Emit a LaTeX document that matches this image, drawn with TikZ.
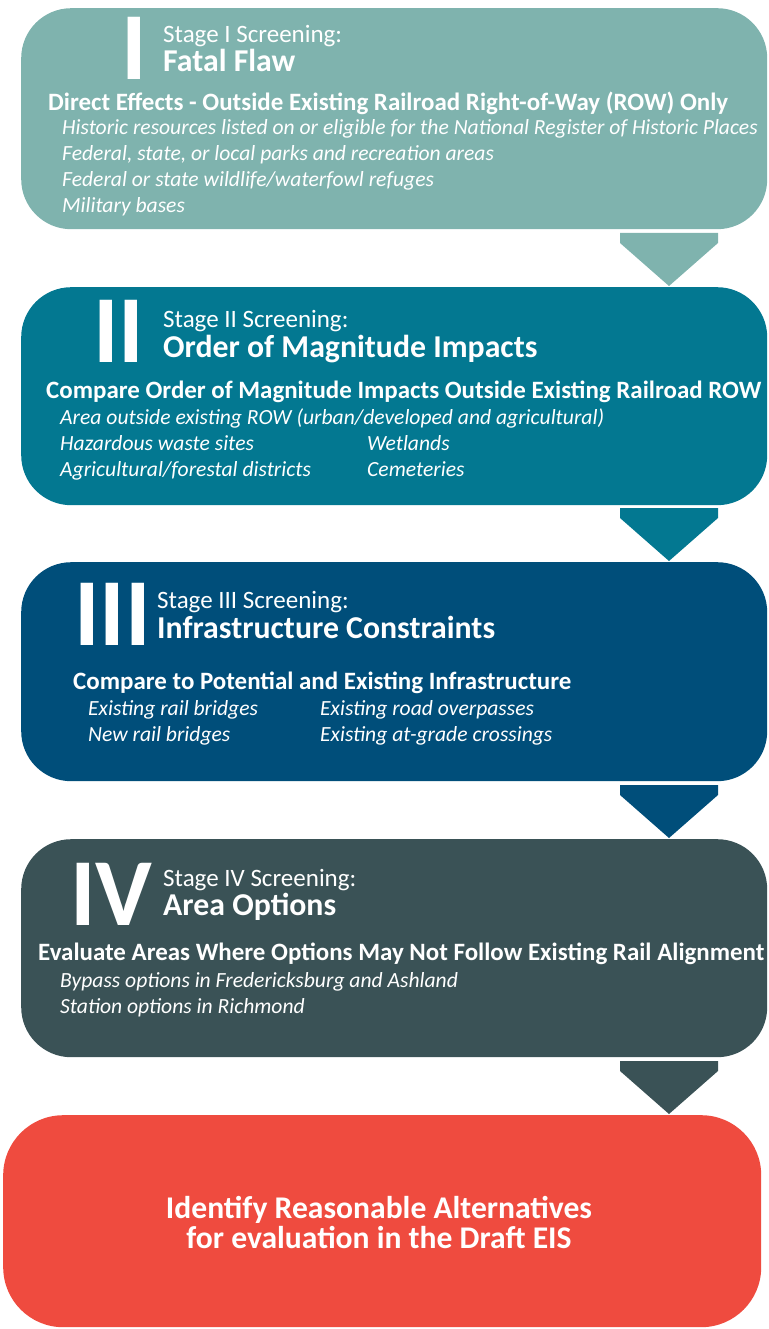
\documentclass[tikz,border=0pt]{standalone}
\usepackage{fontspec}
\setmainfont{Carlito}
\usetikzlibrary{calc}
\definecolor{cA}{HTML}{7FB3AE}
\definecolor{cB}{HTML}{037891}
\definecolor{cC}{HTML}{004E7A}
\definecolor{cD}{HTML}{3A5256}
\definecolor{cE}{HTML}{EF4B3F}
\tikzset{
  stagebox/.style={rectangle, rounded corners=50pt, minimum width=746pt, anchor=north west, inner sep=0pt},
  numeral/.style={anchor=base west, text=white, inner sep=0pt, font=\bfseries\fontsize{96}{96}\selectfont},
  stagelbl/.style={anchor=base west, text=white, inner sep=0pt, font=\fontsize{25}{26}\selectfont},
  titlelbl/.style={anchor=base west, text=white, inner sep=0pt, font=\bfseries\fontsize{31.8}{32}\selectfont},
  headlbl/.style={anchor=base west, text=white, inner sep=0pt, font=\bfseries\fontsize{24.95}{26}\selectfont},
  itemlbl/.style={anchor=base west, text=white, inner sep=0pt, font=\itshape\fontsize{21.6}{26}\selectfont},
}
\begin{document}
\begin{tikzpicture}[x=1pt,y=-1pt]
\useasboundingbox (0,0) rectangle (768,1329);
% boxes
\node[stagebox, fill=cA, minimum height=221pt] (b1) at (21,8) {};
\node[stagebox, fill=cB, minimum height=218pt] (b2) at (21,287) {};
\node[stagebox, fill=cC, minimum height=219pt] (b3) at (21,562) {};
\node[stagebox, fill=cD, minimum height=218pt] (b4) at (21,839) {};
\node[rectangle, rounded corners=60pt, anchor=north west, inner sep=0pt, fill=cE, minimum width=758pt, minimum height=212pt] (b5) at (3,1115) {};
% chevrons
\fill[cA] (620,233) -- (718,233) -- (718,243) -- (669,286) -- (620,243) -- cycle;
\fill[cB] (620,508) -- (718,508) -- (718,518) -- (669,561) -- (620,518) -- cycle;
\fill[cC] (620,785) -- (718,785) -- (718,795) -- (669,838) -- (620,795) -- cycle;
\fill[cD] (620,1061) -- (718,1061) -- (718,1071) -- (669,1114) -- (620,1071) -- cycle;
% Stage I
\node[numeral] (n1) at (121,80) {I};
\node[stagelbl] (s1) at (163,43) {Stage I Screening:};
\node[titlelbl] (t1) at (163,72) {Fatal Flaw};
\node[headlbl] (h1) at (48,111) {Direct Effects - Outside Existing Railroad Right-of-Way (ROW) Only};
\node[itemlbl] (i11) at (62,135) {Historic resources listed on or eligible for the National Register of Historic Places};
\node[itemlbl] (i12) at (62,161) {Federal, state, or local parks and recreation areas};
\node[itemlbl] (i13) at (62,187) {Federal or state wildlife/waterfowl refuges};
\node[itemlbl] (i14) at (62,213) {Military bases};
% Stage II
\node[numeral] (n2) at (93,362) {II};
\node[stagelbl] (s2) at (163,327) {Stage II Screening:};
\node[titlelbl] (t2) at (163,357) {Order of Magnitude Impacts};
\node[headlbl] (h2) at (46,398) {Compare Order of Magnitude Impacts Outside Existing Railroad ROW};
\node[itemlbl] (i21) at (60,424) {Area outside existing ROW (urban/developed and agricultural)};
\node[itemlbl] (i22) at (60,450) {Hazardous waste sites};
\node[itemlbl] (i23) at (367,450) {Wetlands};
\node[itemlbl] (i24) at (60,476) {Agricultural/forestal districts};
\node[itemlbl] (i25) at (367,476) {Cemeteries};
% Stage III
\node[numeral] (n3) at (74,645) {III};
\node[stagelbl] (s3) at (157,608) {Stage III Screening:};
\node[titlelbl] (t3) at (157,638) {Infrastructure Constraints};
\node[headlbl] (h3) at (73,689) {Compare to Potential and Existing Infrastructure};
\node[itemlbl] (i31) at (88,715) {Existing rail bridges};
\node[itemlbl] (i32) at (320,715) {Existing road overpasses};
\node[itemlbl] (i33) at (88,741) {New rail bridges};
\node[itemlbl] (i34) at (320,741) {Existing at-grade crossings};
% Stage IV
\node[numeral] (n4) at (70,925) {IV};
\node[stagelbl] (s4) at (163,886) {Stage IV Screening:};
\node[titlelbl] (t4) at (163,915) {Area Options};
\node[headlbl] (h4) at (38,960) {Evaluate Areas Where Options May Not Follow Existing Rail Alignment};
\node[itemlbl] (i41) at (60,987) {Bypass options in Fredericksburg and Ashland};
\node[itemlbl] (i42) at (60,1013) {Station options in Richmond};
% Final
\node[text=white, align=center, inner sep=0pt, font=\bfseries\fontsize{31.6}{30}\selectfont] (f) at (379,1222) {Identify Reasonable Alternatives\\for evaluation in the Draft EIS};
\end{tikzpicture}
\end{document}
